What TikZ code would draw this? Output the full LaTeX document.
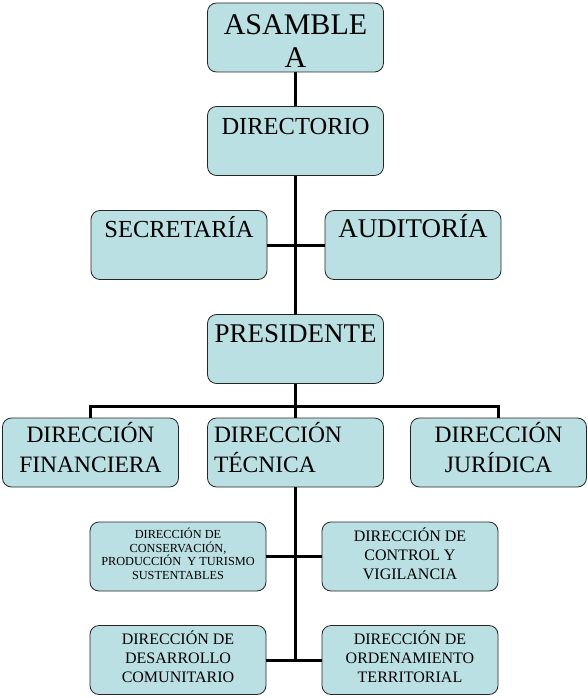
\documentclass[tikz,border=0pt]{standalone}
\usepackage{fontspec}
\setmainfont{Liberation Serif}
\definecolor{boxfill}{RGB}{187,224,227}
\newcommand{\orgtxt}[5][\centering]{\parbox[c][69pt][t]{176pt}{#1\fontsize{#2pt}{#3pt}\selectfont\rule{0pt}{#4pt}#5}}
\tikzset{
  orgbox/.style={draw=black!85, line width=0.8pt, fill=boxfill, rounded corners=9pt, inner sep=0pt, outer sep=0pt},
  link/.style={draw=black, line width=3pt}
}
\begin{document}
\begin{tikzpicture}[x=1pt,y=-1pt]
\useasboundingbox (0,0) rectangle (588,698);
\fill[white] (0,0) rectangle (588,698);
% boxes
\node[orgbox] (asm) at (295.5,37.5) {\orgtxt{30}{33}{32}{ASAMBLE\\A}};
\node[orgbox] (dir) at (295.5,141) {\orgtxt{24.5}{28}{28}{DIRECTORIO}};
\node[orgbox] (sec) at (179,245) {\orgtxt{24.5}{28}{27}{SECRETARÍA}};
\node[orgbox] (aud) at (413,245) {\orgtxt{27}{30}{27}{AUDITORÍA}};
\node[orgbox] (pre) at (295.5,349) {\orgtxt{27}{30}{28}{PRESIDENTE}};
\node[orgbox] (fin) at (90.5,452.5) {\orgtxt{23.5}{30}{24}{DIRECCIÓN\\FINANCIERA}};
\node[orgbox] (tec) at (295.5,452.5) {\orgtxt[\raggedright\leftskip=6.5pt]{23.5}{30}{24}{DIRECCIÓN\\TÉCNICA}};
\node[orgbox] (jur) at (498.5,452.5) {\orgtxt{23.5}{30}{24}{DIRECCIÓN\\JURÍDICA}};
\node[orgbox] (con) at (178,556.5) {\orgtxt{12.3}{13.5}{16.7}{DIRECCIÓN DE\\CONSERVACIÓN,\\PRODUCCIÓN\ \ Y TURISMO\\SUSTENTABLES}};
\node[orgbox] (ctl) at (410,556.5) {\orgtxt{16}{19}{19.3}{DIRECCIÓN DE\\CONTROL Y\\VIGILANCIA}};
\node[orgbox] (des) at (178,660) {\orgtxt{16}{19}{19}{DIRECCIÓN DE\\DESARROLLO\\COMUNITARIO}};
\node[orgbox] (ord) at (410,660) {\orgtxt{16}{19}{19}{DIRECCIÓN DE\\ORDENAMIENTO\\TERRITORIAL}};
% connector points
\coordinate (bar) at (295.5,406);
\coordinate (tend) at (tec.south |- des.east);
% connectors
\draw[link] (asm.south) -- (dir.north);
\draw[link] (dir.south) -- (pre.north);
\draw[link] (sec.east) -- (aud.west);
\draw[link] (pre.south) -- (tec.north);
\draw[link] (fin.north) |- (bar) -| (jur.north);
\draw[link] (tec.south) -- ([yshift=1.5pt]tend);
\draw[link] (con.east) -- (ctl.west);
\draw[link] (des.east) -- (ord.west);
\end{tikzpicture}
\end{document}
